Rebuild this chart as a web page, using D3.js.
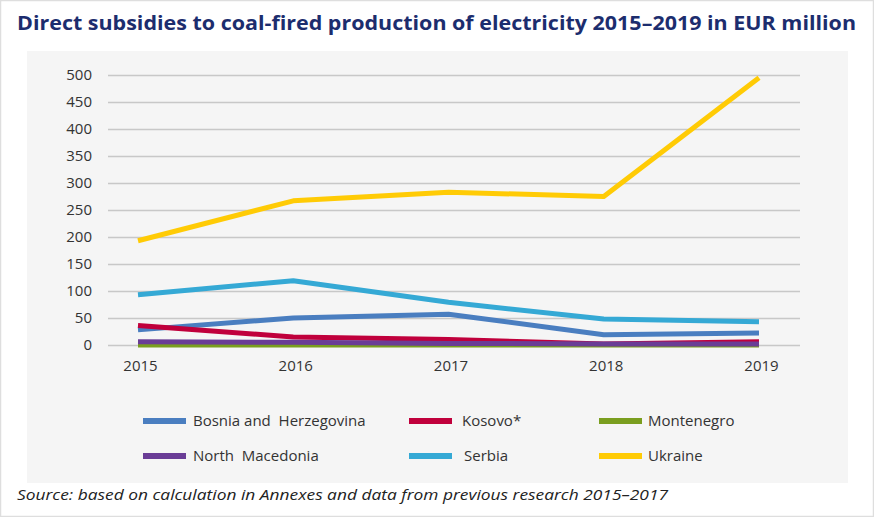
<!DOCTYPE html>
<html><head><meta charset="utf-8">
<script src="https://cdn.jsdelivr.net/npm/d3@7"></script>
<style>html,body{margin:0;padding:0;background:#fff;}svg{display:block;}</style>
</head><body>
<svg id="c" width="874" height="517"></svg>
<script>
const years = [2015, 2016, 2017, 2018, 2019];
const yTicks = [0, 50, 100, 150, 200, 250, 300, 350, 400, 450, 500];
const seriesNames = ["Bosnia and  Herzegovina", "Kosovo*", "Montenegro", "North  Macedonia", "Serbia", "Ukraine"];
const bosnia = [28, 50, 57, 19, 22];
const kosovo = [36, 15, 10, 2, 6];
const montenegro = [0, 0, 0, 0, 0];
const northMacedonia = [6, 5, 3, 2, 2];
const serbia = [93, 119, 79, 48, 43];
const ukraine = [193, 267, 283, 275, 495];
const colors = ["#4a7ec0", "#c0003c", "#7a9e1f", "#6a3d96", "#35a9d5", "#ffcb05"];
const seriesValues = [bosnia, kosovo, montenegro, northMacedonia, serbia, ukraine];

const svg = d3.select("#c");
svg.append("rect").attr("x",0.5).attr("y",0.5).attr("width",873).attr("height",516)
  .attr("fill","#fff").attr("stroke","#dedede").attr("stroke-width",1.5);
svg.append("rect").attr("x",27).attr("y",51).attr("width",821).attr("height",432).attr("fill","#f5f5f5");

svg.append("text").attr("x",17).attr("y",30)
  .attr("font-family","'Open Sans', sans-serif").attr("font-weight",700).attr("font-size",20)
  .attr("fill","#1c2d6e").attr("textLength",839).attr("lengthAdjust","spacingAndGlyphs")
  .text("Direct subsidies to coal-fired production of electricity 2015–2019 in EUR million");

const x = d3.scalePoint().domain(years).range([138, 759]);
const y = d3.scaleLinear().domain([0, 500]).range([345, 75]);

const yAxis = svg.append("g").attr("transform","translate(108,0)")
  .call(d3.axisLeft(y).tickValues(yTicks).tickSize(-692).tickPadding(16));
yAxis.select(".domain").remove();
yAxis.selectAll(".tick line").attr("stroke","#c8c8c8").attr("stroke-width",1.5);
yAxis.selectAll(".tick text").attr("font-family","'Open Sans', sans-serif").attr("font-size",15).attr("fill","#333");

const xAxis = svg.append("g").attr("transform","translate(2,345)")
  .call(d3.axisBottom(x).tickSize(0).tickPadding(15));
xAxis.select(".domain").remove();
xAxis.selectAll(".tick text").attr("font-family","'Open Sans', sans-serif").attr("font-size",15).attr("fill","#333");

const line = d3.line().x((d,i)=>x(years[i])).y(d=>y(d));
seriesValues.forEach((vals, k) => {
  svg.append("path").datum(vals).attr("d", line).attr("fill","none")
    .attr("stroke", colors[k]).attr("stroke-width",5).attr("stroke-linejoin","round");
});

const legX = [143, 409, 599];
const legY = [421, 456];
seriesNames.forEach((name, i) => {
  const cx = legX[i % 3], cy = legY[Math.floor(i / 3)];
  svg.append("rect").attr("x",cx).attr("y",cy-3).attr("width",43).attr("height",6).attr("fill",colors[i]);
  const off = i === 1 ? 53 : (i === 4 ? 55 : 50 - (i % 3 === 2 ? 1 : 0));
  svg.append("text").attr("x",cx + off).attr("y",cy+5)
    .attr("font-family","'Open Sans', sans-serif").attr("font-size",15).attr("fill","#333")
    .attr("xml:space","preserve").style("white-space","pre").text(name);
});

svg.append("text").attr("x",17).attr("y",500)
  .attr("font-family","'Open Sans', sans-serif").attr("font-style","italic").attr("font-size",15)
  .attr("fill","#222").attr("textLength",651).attr("lengthAdjust","spacingAndGlyphs")
  .text("Source: based on calculation in Annexes and data from previous research 2015–2017");
</script>
</body></html>
